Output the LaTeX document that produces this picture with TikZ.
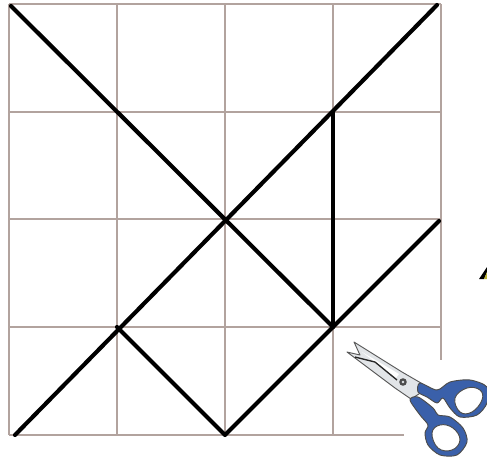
\documentclass[tikz,border=0pt]{standalone}
\usepackage{tikz}
\usetikzlibrary{calc}
\definecolor{gridbrown}{RGB}{178,163,158}
\definecolor{scissorblue}{RGB}{58,96,170}
\definecolor{bladegrey}{RGB}{226,229,232}
\begin{document}
\begin{tikzpicture}[x=.75pt,y=-.75pt,line join=round,
    gridline/.style={draw=gridbrown,line width=.8pt},
    cutline/.style={draw=black,line width=3.1pt,line cap=round},
    handle/.style={draw=black!70,fill=scissorblue,line width=.7pt},
    blade/.style={draw=black!65,fill=bladegrey,line width=.7pt}]
  \useasboundingbox (0,0) rectangle (487,458);
  % grid
  \foreach \i/\gx/\gy in {0/9/4,1/117/112,2/225/219,3/333/327,4/441/435}{
    \coordinate (v\i) at (\gx,4);
    \coordinate (w\i) at (\gx,435);
    \coordinate (h\i) at (9,\gy);
    \coordinate (k\i) at (441,\gy);
    \draw[gridline] (v\i) -- (w\i);
    \draw[gridline] (h\i) -- (k\i);
  }
  % cuts
  \coordinate (tl) at (11,6);
  \coordinate (tr) at (437,5);
  \coordinate (bl) at (15,435);
  \coordinate (lowb) at (225,435);
  \coordinate (lowl) at (117,327);
  \coordinate (lowr) at (333,327);
  \coordinate (upr) at (333,112);
  \coordinate (endr) at (439,221);
  \fill[white] (404,360) rectangle (487,458);
  \fill[white] (442,327) rectangle (487,360);
  \draw[cutline] (tl) -- (lowr);
  \draw[cutline] (bl) -- (tr);
  \draw[cutline] (lowl) -- (lowb) -- (lowr) -- (endr);
  \draw[cutline] (upr) -- (lowr);
  % scissors
  \draw[blade] (354,342) -- (402,372) -- (421,383) -- (422,392) -- (411,399)
    -- (395,388) -- (347,352) -- (360,355) -- cycle;
  \fill[white] (362,352) -- (399,374) -- (396,378) -- cycle;
  \draw[black!85,line width=1pt] (355,357) -- (375,362) -- (397,380);
  \fill[black!70] (403,382) circle (3.8);
  \fill[bladegrey] (403,382) circle (1.4);
  \draw[handle] plot[smooth cycle,tension=.5] coordinates {(420,383) (437,390) (450,382)
    (470,380) (487,387) (487,403) (477,415) (460,417) (450,408) (443,398) (437,403)
    (427,397) (418,392)};
  \fill[white,draw=black!70,line width=.7pt] plot[smooth cycle,tension=.7] coordinates {(455,398)
    (467,388) (480,390) (482,400) (472,412) (460,412)};
  \draw[handle] plot[smooth cycle,tension=.5] coordinates {(410,400) (418,397) (433,408)
    (438,415) (450,417) (463,428) (467,442) (457,455) (440,455) (428,445) (425,433)
    (428,425) (420,415)};
  \fill[white,draw=black!70,line width=.7pt] plot[smooth cycle,tension=.7] coordinates {(432,433)
    (440,425) (453,428) (460,440) (452,450) (438,448)};
  % fragment at the margin
  \fill[black] (479,279) -- (487,267) -- (487,272) -- (484,279) -- cycle;
  \fill[yellow!70!black] (484,279) -- (487,272) -- (487,279) -- cycle;
\end{tikzpicture}
\end{document}
